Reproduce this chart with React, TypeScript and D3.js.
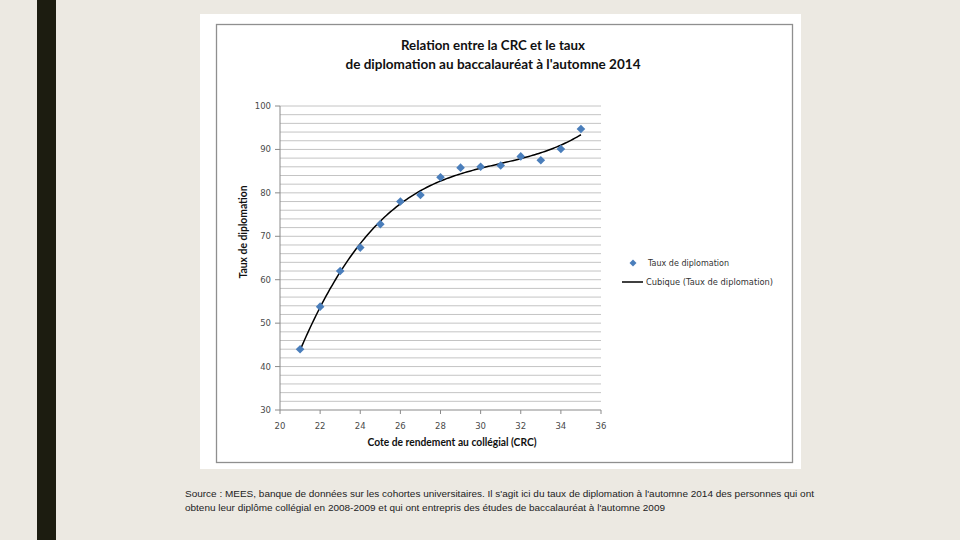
import React from 'react';
import * as d3 from 'd3';

// Données
const crc = [21, 22, 23, 24, 25, 26, 27, 28, 29, 30, 31, 32, 33, 34, 35];
const taux = [44, 53.8, 62, 67.4, 72.8, 78, 79.5, 83.6, 85.8, 86, 86.3, 88.4, 87.5, 90.1, 94.7];
const xTicks = [20, 22, 24, 26, 28, 30, 32, 34, 36];
const yTicks = [30, 40, 50, 60, 70, 80, 90, 100];
const titleLines = ['Relation entre la CRC et le taux', "de diplomation au baccalauréat à l'automne 2014"];
const sourceLines = [
  "Source : MEES, banque de données sur les cohortes universitaires. Il s'agit ici du taux de diplomation à l'automne 2014 des personnes qui ont",
  "obtenu leur diplôme collégial en 2008-2009 et qui ont entrepris des études de baccalauréat à l'automne 2009",
];

// régression cubique (moindres carrés), comme la courbe de tendance d'Excel
function cubicFit(xs: number[], ys: number[]): number[] {
  const n = 4;
  const A: number[][] = Array.from({ length: n }, () => new Array(n + 1).fill(0));
  xs.forEach((x, k) => {
    for (let i = 0; i < n; i++) {
      for (let j = 0; j < n; j++) A[i][j] += Math.pow(x, i + j);
      A[i][n] += ys[k] * Math.pow(x, i);
    }
  });
  for (let c = 0; c < n; c++) {
    let p = c;
    for (let r = c + 1; r < n; r++) if (Math.abs(A[r][c]) > Math.abs(A[p][c])) p = r;
    [A[c], A[p]] = [A[p], A[c]];
    for (let r = 0; r < n; r++) {
      if (r === c) continue;
      const f = A[r][c] / A[c][c];
      for (let k = c; k <= n; k++) A[r][k] -= f * A[c][k];
    }
  }
  return A.map((row, i) => row[n] / A[i][i]);
}

const App: React.FC = () => {
  const x = d3.scaleLinear().domain([20, 36]).range([280, 601]);
  const y = d3.scaleLinear().domain([30, 100]).range([410, 106]);

  const coef = cubicFit(crc, taux);
  const fit = (v: number) => coef[0] + coef[1] * v + coef[2] * v * v + coef[3] * v * v * v;
  const xMin = d3.min(crc) as number;
  const xMax = d3.max(crc) as number;
  const trend = d3.range(xMin, xMax + 0.001, 0.1).map((v) => [v, fit(v)] as [number, number]);
  const line = d3.line<[number, number]>().x((d) => x(d[0])).y((d) => y(d[1]));

  const grid = d3.range(32, 101, 2);
  const diamond = (cx: number, cy: number, r: number) =>
    `M${cx},${cy - r}L${cx + r},${cy}L${cx},${cy + r}L${cx - r},${cy}Z`;

  const tickFont = '"DejaVu Sans", Verdana, sans-serif';
  const boldFont = 'Lato, "Open Sans", sans-serif';

  return (
    <div style={{ position: 'fixed', left: 0, top: 0 }}>
      <svg width={960} height={540} style={{ display: 'block' }}>
        <rect x={0} y={0} width={960} height={540} fill="#ece9e2" />
        <rect x={37} y={0} width={19} height={540} fill="#1c1c10" />

        <rect x={200} y={14} width={601} height={455} fill="#ffffff" />
        <rect x={216.5} y={24.5} width={576} height={438} fill="none" stroke="#8f8f8f" strokeWidth={1.3} />

        {titleLines.map((t, i) => (
          <text key={i} x={493} y={50 + i * 19} textAnchor="middle" fontFamily={boldFont}
            fontWeight="bold" fontSize={14} fill="#111"
            textLength={i === 0 ? 184 : 295} lengthAdjust="spacingAndGlyphs">{t}</text>
        ))}

        {grid.map((g) => (
          <line key={g} x1={x(20)} x2={x(36)} y1={y(g)} y2={y(g)} stroke="#c4c4c4" strokeWidth={1} />
        ))}
        <line x1={x(20)} x2={x(20)} y1={y(30)} y2={y(100)} stroke="#8a8a8a" />
        <line x1={x(20)} x2={x(36)} y1={y(30)} y2={y(30)} stroke="#8a8a8a" />

        {yTicks.map((t) => (
          <g key={t}>
            <line x1={x(20) - 5} x2={x(20)} y1={y(t)} y2={y(t)} stroke="#8a8a8a" />
            <text x={x(20) - 9} y={y(t) + 3} textAnchor="end" fontFamily={tickFont} fontSize={8.5} fill="#4a4a4a">{t}</text>
          </g>
        ))}
        {xTicks.map((t) => (
          <g key={t}>
            <line x1={x(t)} x2={x(t)} y1={y(30)} y2={y(30) + 4} stroke="#8a8a8a" />
            <text x={x(t)} y={y(30) + 19} textAnchor="middle" fontFamily={tickFont} fontSize={8.5} fill="#4a4a4a">{t}</text>
          </g>
        ))}

        <text x={452} y={446} textAnchor="middle" fontFamily={boldFont} fontWeight="bold" fontSize={10.5} fill="#111"
          textLength={169} lengthAdjust="spacingAndGlyphs">Cote de rendement au collégial (CRC)</text>
        <text transform="translate(247,232) rotate(-90)" textAnchor="middle" fontFamily={boldFont} fontWeight="bold"
          fontSize={10.5} fill="#111" textLength={93} lengthAdjust="spacingAndGlyphs">Taux de diplomation</text>

        <path d={line(trend) || ''} fill="none" stroke="#000" strokeWidth={1.5} />
        {crc.map((c, i) => (
          <path key={c} d={diamond(x(c), y(taux[i]), 4.3)} fill="#4a7ebb" />
        ))}

        <path d={diamond(633, 263, 3.5)} fill="#4a7ebb" />
        <text x={648} y={266} fontFamily={tickFont} fontSize={8.3} fill="#333"
          textLength={81} lengthAdjust="spacingAndGlyphs">Taux de diplomation</text>
        <line x1={622} x2={643} y1={282} y2={282} stroke="#000" strokeWidth={1.5} />
        <text x={646} y={285} fontFamily={tickFont} fontSize={8.3} fill="#333"
          textLength={127} lengthAdjust="spacingAndGlyphs">Cubique (Taux de diplomation)</text>

        {sourceLines.map((s, i) => (
          <text key={i} x={185} y={497 + i * 14} fontFamily='"Liberation Sans", Arial, sans-serif' fontSize={9.5}
            fill="#222" textLength={i === 0 ? 629 : 480} lengthAdjust="spacingAndGlyphs">{s}</text>
        ))}
      </svg>
    </div>
  );
};

export default App;
